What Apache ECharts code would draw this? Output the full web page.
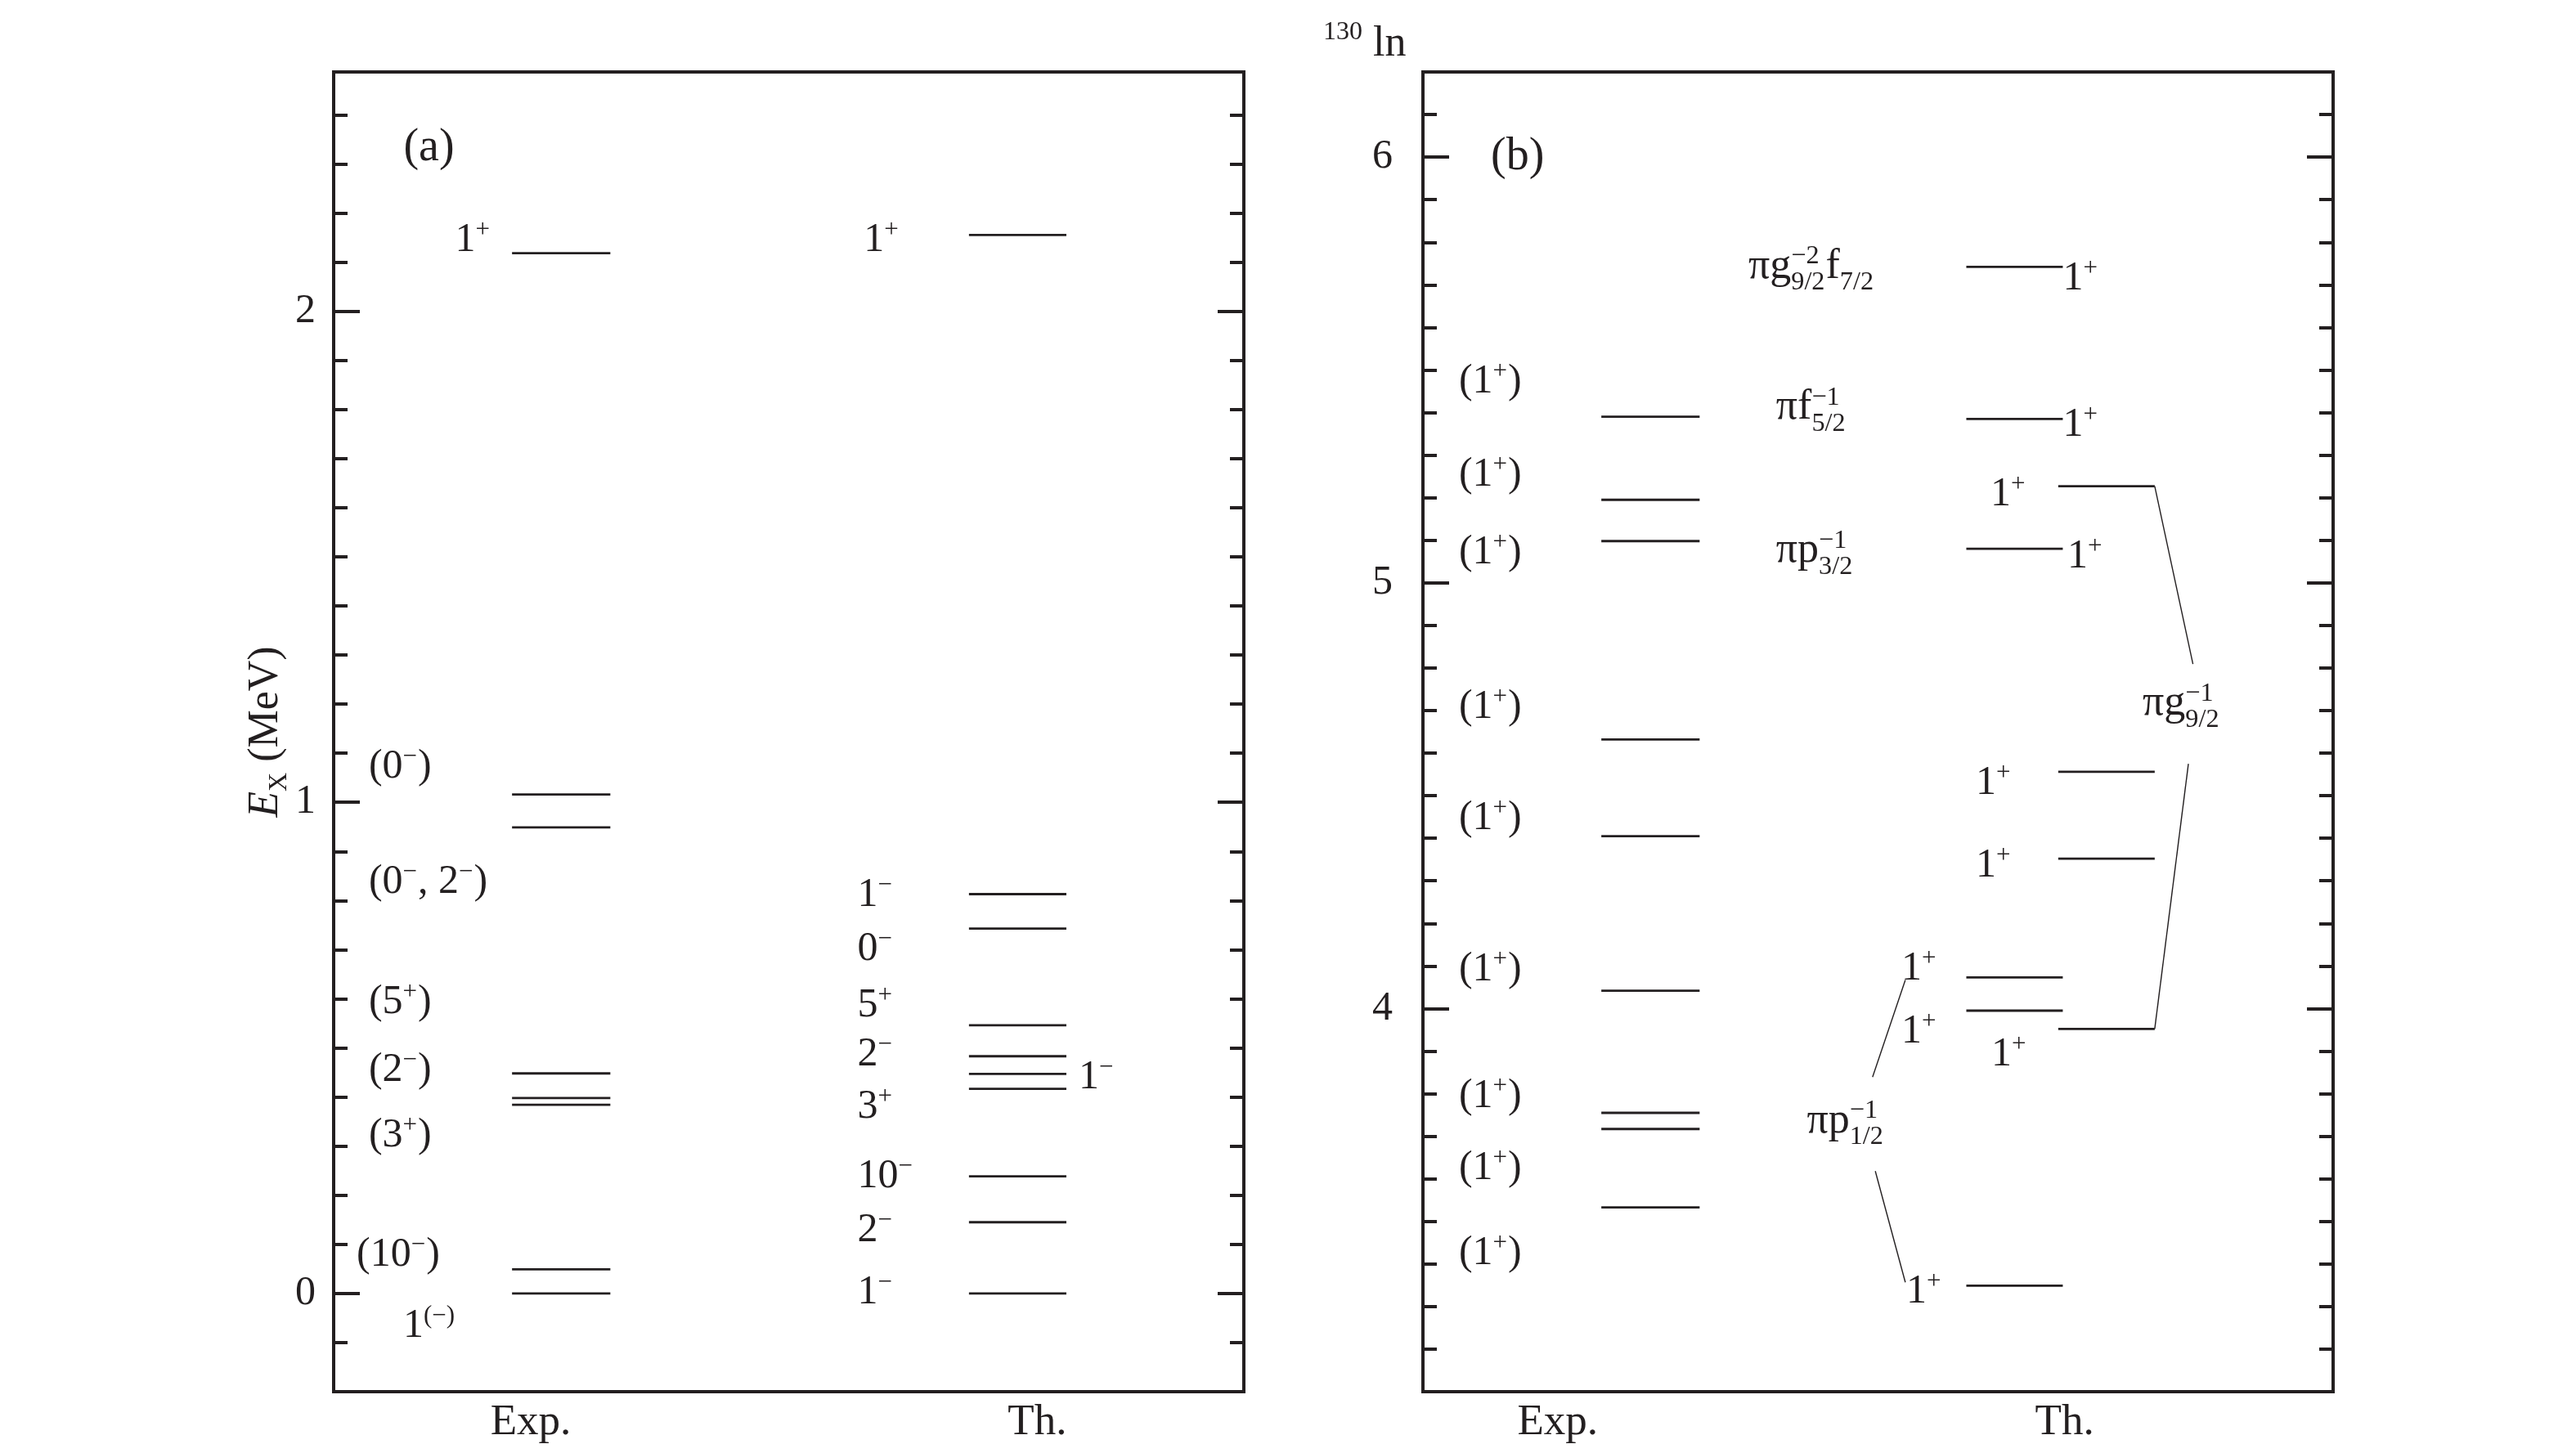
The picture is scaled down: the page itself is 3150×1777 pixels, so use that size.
<!DOCTYPE html>
<html><head><meta charset="utf-8">
<script src="https://cdn.jsdelivr.net/npm/echarts@6/dist/echarts.min.js"></script>
<style>html,body{margin:0;padding:0;background:#fff;}#chart{width:3150px;height:1777px;}</style>
</head><body><div id="chart"></div>
<script>
// ---------------- DATA ----------------
// Panel (a): energies in MeV
const expA_levels = [2.118, 1.016, 0.949, 0.448, 0.398, 0.384, 0.049, 0.0];
const expA_spins  = ['1^{+}', '(0^{−})', '(0^{−}, 2^{−})', '(5^{+})', '(2^{−})', '(3^{+})', '(10^{−})', '1^{(−)}'];
const expA_labelE = [2.144, 1.072, 0.837, 0.592, 0.454, 0.321, 0.079, -0.067];

const thA_levels = [2.155, 0.813, 0.743, 0.546, 0.483, 0.447, 0.4165, 0.2385, 0.145, 0.0];
const thA_spins  = ['1^{+}', '1^{−}', '0^{−}', '5^{+}', '2^{−}', '1^{−}', '3^{+}', '10^{−}', '2^{−}', '1^{−}'];
const thA_labelE = [2.1436, 0.811, 0.7005, 0.586, 0.486, 0.440, 0.379, 0.238, 0.128, 0.002];

// Panel (b): energies in MeV
const expB_levels = [5.39, 5.195, 5.098, 4.632, 4.405, 4.042, 3.755, 3.717, 3.533];
const expB_spins  = ['(1^{+})', '(1^{+})', '(1^{+})', '(1^{+})', '(1^{+})', '(1^{+})', '(1^{+})', '(1^{+})', '(1^{+})'];
const expB_labelE = [5.472, 5.253, 5.070, 4.708, 4.446, 4.091, 3.793, 3.625, 3.424];

const thB1_levels = [5.742, 5.385, 5.080, 4.073, 3.995, 3.349];
const thB1_spins  = ['1^{+}', '1^{+}', '1^{+}', '1^{+}', '1^{+}', '1^{+}'];
const thB1_labelE = [5.715, 5.370, 5.062, 4.094, 3.945, 3.335];

const thB2_levels = [5.227, 4.556, 4.352, 3.952];
const thB2_spins  = ['1^{+}', '1^{+}', '1^{+}', '1^{+}'];
const thB2_labelE = [5.207, 4.530, 4.335, 3.892];

const configB_text = ['πg^{−2}_{9/2}f_{7/2}', 'πf^{−1}_{5/2}', 'πp^{−1}_{3/2}', 'πp^{−1}_{1/2}', 'πg^{−1}_{9/2}'];
const configB_E    = [5.743, 5.411, 5.075, 3.736, 4.716];

const columnNames = ['Exp.', 'Th.'];
const majorTicksA = [0, 1, 2];
const majorTicksB = [4, 5, 6];

// ---------------- LAYOUT / STYLE ----------------
const INK = '#231f20';
const FONT = '"Liberation Serif", "Times New Roman", serif';
const COL_EXP = [0.196, 0.304];
const COL_TH  = [0.698, 0.805];
const COL_THB1 = [0.597, 0.703];
const COL_THB2 = [0.698, 0.804];
const expA_labelX = [0.1334, 0.0386, 0.0386, 0.0386, 0.0386, 0.0386, 0.0252, 0.0764];
const thA_labelX  = [0.5825, 0.5755, 0.5755, 0.5755, 0.5755, 0.8185, 0.5755, 0.5755, 0.5755, 0.5755];
const expB_labelX = 0.0395;
const thB1_labelX = [0.7031, 0.7031, 0.708, 0.5256, 0.5256, 0.531];
const thB2_labelX = [0.6235, 0.6074, 0.6074, 0.6244];
const configB_X   = [0.3576, 0.388, 0.388, 0.4218, 0.7907];
const connectorsB = [[0.804, 5.227, 0.846, 4.809], [0.804, 3.952, 0.841, 4.575],
                     [0.494, 3.839, 0.530, 4.067], [0.497, 3.618, 0.530, 3.357]];
const colLabelPosA = [0.2165, 0.773];
const colLabelPosB = [0.148, 0.705];

const FS_SPIN = 50, FS_CONF = 52, FS_PANEL = 56;

// --------------- text helpers ---------------
const mctx = document.createElement('canvas').getContext('2d');
function tw(str, fs) { mctx.font = fs + 'px ' + FONT; return mctx.measureText(str).width; }
function parse(s) {
  const toks = []; let i = 0, buf = '';
  while (i < s.length) {
    const c = s[i];
    if ((c === '^' || c === '_') && s[i + 1] === '{') {
      const end = s.indexOf('}', i + 2);
      const content = s.slice(i + 2, end);
      const key = c === '^' ? 'sup' : 'sub';
      if (buf) { toks.push({ main: buf }); buf = ''; }
      const last = toks[toks.length - 1];
      if (last && last.script && last[key] === undefined) last[key] = content;
      else { const t = { script: true }; t[key] = content; toks.push(t); }
      i = end + 1;
    } else { buf += c; i++; }
  }
  if (buf) toks.push({ main: buf });
  return toks;
}
function layoutText(markup, fs) {
  const sfs = fs * 0.62;
  let x = 0; const pieces = [];
  parse(markup).forEach(t => {
    if (t.main !== undefined) { pieces.push({ text: t.main, x, dy: 0, fs }); x += tw(t.main, fs); }
    else {
      let w = 0;
      if (t.sup !== undefined) { pieces.push({ text: t.sup, x, dy: -0.24 * fs, fs: sfs }); w = Math.max(w, tw(t.sup, sfs)); }
      if (t.sub !== undefined) { pieces.push({ text: t.sub, x, dy: 0.38 * fs, fs: sfs }); w = Math.max(w, tw(t.sub, sfs)); }
      x += w + fs * 0.02;
    }
  });
  return { pieces, width: x };
}
function labelSeries(xi, yi, items) {
  return {
    type: 'custom', xAxisIndex: xi, yAxisIndex: yi, silent: true, clip: false, z: 10,
    data: items.map((it, k) => [it.x, it.E, k]),
    encode: { x: 0, y: 1 },
    renderItem: (params, api) => {
      const it = items[api.value(2)];
      const p = api.coord([api.value(0), api.value(1)]);
      const lay = layoutText(it.text, it.fs);
      const x0 = it.align === 'center' ? -lay.width / 2 : (it.align === 'right' ? -lay.width : 0);
      return {
        type: 'group', x: p[0], y: p[1],
        children: lay.pieces.map(pc => ({
          type: 'text', x: x0 + pc.x, y: pc.dy,
          style: { text: pc.text, font: pc.fs + 'px ' + FONT, fill: INK,
                   align: 'left', verticalAlign: 'middle', textAlign: 'left', textVerticalAlign: 'middle' }
        }))
      };
    }
  };
}
function levelSeries(xi, yi, energies, col) {
  return {
    type: 'custom', xAxisIndex: xi, yAxisIndex: yi, silent: true, clip: false,
    data: energies.map(E => [col[0], col[1], E]),
    encode: { x: [0, 1], y: 2 },
    renderItem: (params, api) => {
      const p0 = api.coord([api.value(0), api.value(2)]);
      const p1 = api.coord([api.value(1), api.value(2)]);
      return { type: 'line', shape: { x1: p0[0], y1: p0[1], x2: p1[0], y2: p1[1] },
               style: { stroke: INK, lineWidth: 2.8 } };
    }
  };
}
function connectorSeries(xi, yi, segs) {
  return {
    type: 'custom', xAxisIndex: xi, yAxisIndex: yi, silent: true, clip: false,
    data: segs,
    encode: { x: [0, 2], y: [1, 3] },
    renderItem: (params, api) => {
      const p0 = api.coord([api.value(0), api.value(1)]);
      const p1 = api.coord([api.value(2), api.value(3)]);
      return { type: 'line', shape: { x1: p0[0], y1: p0[1], x2: p1[0], y2: p1[1] },
               style: { stroke: INK, lineWidth: 1.4 } };
    }
  };
}

// --------------- axes ---------------
function range(a, b, step) { const r = []; for (let v = a; v <= b + 1e-9; v += step) r.push(Math.round(v * 10) / 10); return r; }
const minorA = range(-0.1, 2.4, 0.1);
const minorB = range(3.2, 6.1, 0.1);
const lineSt = { color: INK, width: 4, cap: 'square' };

function yAxes(grid, min, max, minor, major, margin, name) {
  const base = { type: 'value', gridIndex: grid, min, max, splitLine: { show: false } };
  const ax = [];
  ax.push(Object.assign({}, base, {
    position: 'left',
    axisLine: { show: true, onZero: false, lineStyle: lineSt },
    axisTick: { show: true, inside: true, length: 17, lineStyle: { color: INK, width: 4 }, customValues: minor },
    axisLabel: { show: true, customValues: major, margin, fontFamily: FONT, fontSize: 50, color: INK },
    name: name || '', nameLocation: 'middle', nameRotate: 90, nameGap: 47,
    nameTextStyle: {
      color: INK, fontFamily: FONT, fontSize: 52, lineHeight: 64, fontWeight: 'normal',
      rich: {
        e: { fontStyle: 'italic', fontFamily: FONT, fontSize: 52, lineHeight: 64, verticalAlign: 'middle', color: INK },
        x: { fontFamily: FONT, fontSize: 32, lineHeight: 32, verticalAlign: 'bottom', color: INK },
        n: { fontFamily: FONT, fontSize: 52, lineHeight: 64, verticalAlign: 'middle', color: INK }
      }
    }
  }));
  ax.push(Object.assign({}, base, {
    position: 'left', axisLine: { show: false, onZero: false },
    axisTick: { show: true, inside: true, length: 32, lineStyle: { color: INK, width: 4 }, customValues: major },
    axisLabel: { show: false }
  }));
  ax.push(Object.assign({}, base, {
    position: 'right', axisLine: { show: true, onZero: false, lineStyle: lineSt },
    axisTick: { show: true, inside: true, length: 17, lineStyle: { color: INK, width: 4 }, customValues: minor },
    axisLabel: { show: false }
  }));
  ax.push(Object.assign({}, base, {
    position: 'right', axisLine: { show: false, onZero: false },
    axisTick: { show: true, inside: true, length: 32, lineStyle: { color: INK, width: 4 }, customValues: major },
    axisLabel: { show: false }
  }));
  return ax;
}
function xAxes(grid, labelPos) {
  return [
    { type: 'value', gridIndex: grid, min: 0, max: 1, position: 'bottom', splitLine: { show: false },
      axisLine: { show: true, onZero: false, lineStyle: lineSt }, axisTick: { show: false },
      axisLabel: { show: true, customValues: labelPos, margin: 12, fontFamily: FONT, fontSize: 53, color: INK,
        formatter: v => { const i = labelPos.findIndex(p => Math.abs(p - v) < 1e-6); return i >= 0 ? columnNames[i] : ''; } } },
    { type: 'value', gridIndex: grid, min: 0, max: 1, position: 'top', splitLine: { show: false },
      axisLine: { show: true, onZero: false, lineStyle: lineSt }, axisTick: { show: false }, axisLabel: { show: false } }
  ];
}

// --------------- label items ---------------
const labelsA = [];
expA_spins.forEach((t, i) => labelsA.push({ text: t, x: expA_labelX[i], E: expA_labelE[i], fs: FS_SPIN }));
thA_spins.forEach((t, i) => labelsA.push({ text: t, x: thA_labelX[i], E: thA_labelE[i], fs: FS_SPIN }));
labelsA.push({ text: '(a)', x: 0.1047, E: 2.331, fs: FS_PANEL, align: 'center' });

const labelsB = [];
expB_spins.forEach((t, i) => labelsB.push({ text: t, x: expB_labelX, E: expB_labelE[i], fs: FS_SPIN }));
thB1_spins.forEach((t, i) => labelsB.push({ text: t, x: thB1_labelX[i], E: thB1_labelE[i], fs: FS_SPIN }));
thB2_spins.forEach((t, i) => labelsB.push({ text: t, x: thB2_labelX[i], E: thB2_labelE[i], fs: FS_SPIN }));
configB_text.forEach((t, i) => labelsB.push({ text: t, x: configB_X[i], E: configB_E[i], fs: FS_CONF }));
labelsB.push({ text: '(b)', x: 0.104, E: 6.0, fs: FS_PANEL, align: 'center' });

const option = {
  animation: false,
  backgroundColor: '#fff',
  title: {
    left: 1618, top: 24, padding: 0,
    text: '{s|130}{m| ln}',
    textStyle: {
      fontWeight: 'normal', fontFamily: FONT,
      rich: {
        s: { fontFamily: FONT, fontWeight: 'normal', fontSize: 32, lineHeight: 32, verticalAlign: 'top', color: INK },
        m: { fontFamily: FONT, fontWeight: 'normal', fontSize: 52, lineHeight: 60, verticalAlign: 'middle', color: INK }
      }
    }
  },
  grid: [
    { left: 408, top: 88, width: 1113, height: 1614 },
    { left: 1740, top: 88, width: 1113, height: 1614 }
  ],
  xAxis: [].concat(xAxes(0, colLabelPosA), xAxes(1, colLabelPosB)),
  yAxis: [].concat(
    yAxes(0, -0.2, 2.487, minorA, majorTicksA, 22, '{e|E}{x|X}{n| (MeV)}'),
    yAxes(1, 3.1, 6.2, minorB, majorTicksB, 37, '')
  ),
  series: [
    levelSeries(0, 0, expA_levels, COL_EXP),
    levelSeries(0, 0, thA_levels, COL_TH),
    labelSeries(0, 0, labelsA),
    levelSeries(2, 4, expB_levels, COL_EXP),
    levelSeries(2, 4, thB1_levels, COL_THB1),
    levelSeries(2, 4, thB2_levels, COL_THB2),
    connectorSeries(2, 4, connectorsB),
    labelSeries(2, 4, labelsB)
  ]
};
const chart = echarts.init(document.getElementById('chart'), null, { renderer: 'canvas' });
chart.setOption(option);
</script></body></html>
